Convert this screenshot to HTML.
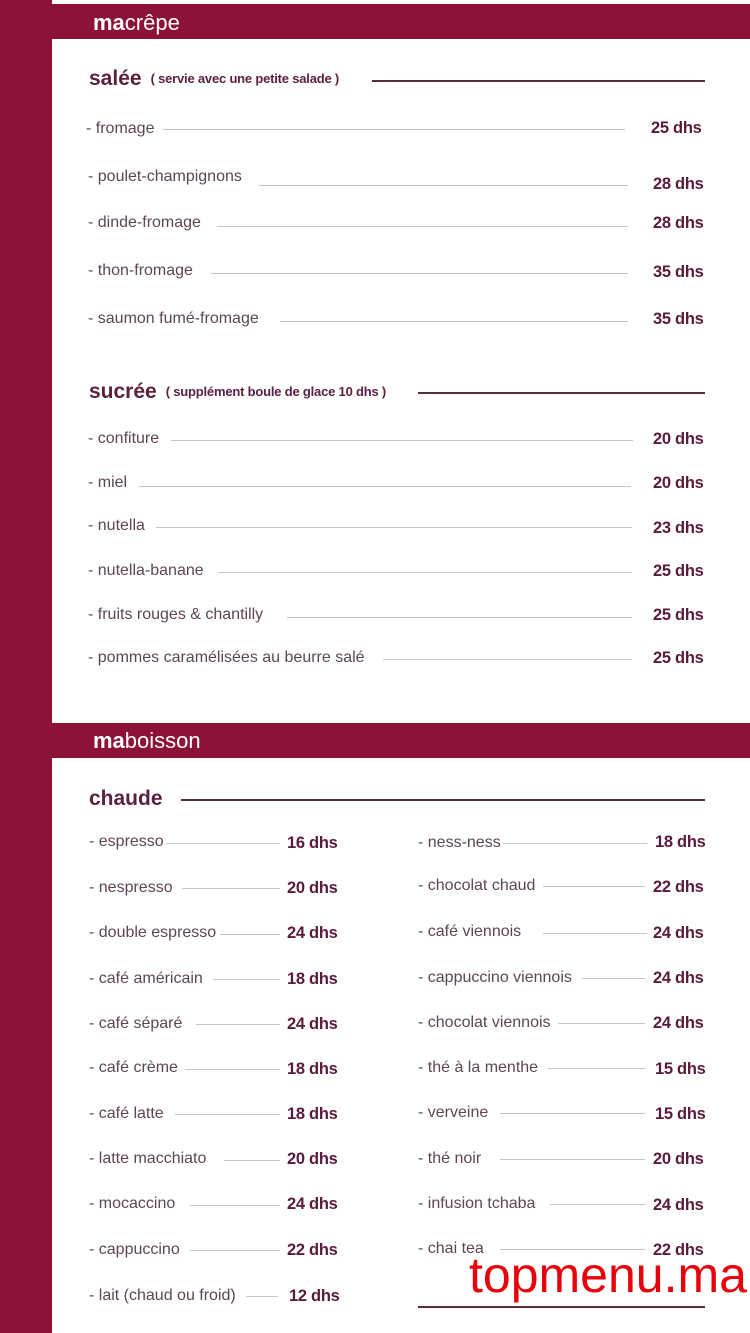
<!DOCTYPE html>
<html><head><meta charset="utf-8">
<style>
*{margin:0;padding:0;box-sizing:border-box}
body{width:750px;height:1333px;position:relative;background:#fff;overflow:hidden;font-family:"Liberation Sans",sans-serif}
.bar{position:absolute;background:#8c1238}
.t{position:absolute;font-size:16px;line-height:20px;color:#5c4656;white-space:nowrap}
.p{position:absolute;font-size:16.5px;line-height:20px;font-weight:bold;color:#5a1a3c;white-space:nowrap;letter-spacing:-0.3px}
.l{position:absolute;height:1px;background:#c9c2c6}
.dl{position:absolute;height:1.5px;background:#5a2a40}
.h{position:absolute;font-size:21px;line-height:26px;font-weight:bold;color:#5b2140;white-space:nowrap}
.s{font-size:13px;font-weight:bold;margin-left:9px;vertical-align:2px;letter-spacing:-0.2px}
.hd{position:absolute;font-size:22px;line-height:26px;color:#fff;white-space:nowrap}
.hd b{font-weight:bold}
</style></head><body>
<div class="bar" style="left:0;top:0;width:52px;height:1333px"></div>
<div class="bar" style="left:52px;top:4px;width:698px;height:35px"></div>
<div class="bar" style="left:52px;top:723px;width:698px;height:35px"></div>
<div class="hd" style="left:93px;top:10px"><b>ma</b>crêpe</div>
<div class="hd" style="left:93px;top:728px"><b>ma</b>boisson</div>

<div class="h" style="left:89px;top:66px">salée<span class="s">( servie avec une petite salade )</span></div>
<div class="dl" style="left:372px;top:80px;width:333px"></div>

<div class="t" style="left:86px;top:119px">- fromage</div><div class="l" style="left:163px;top:129px;width:462px"></div><div class="p" style="left:651px;top:118px">25 dhs</div>
<div class="t" style="left:88px;top:167px">- poulet-champignons</div><div class="l" style="left:259px;top:185px;width:369px"></div><div class="p" style="left:653px;top:174px">28 dhs</div>
<div class="t" style="left:88px;top:213px">- dinde-fromage</div><div class="l" style="left:217px;top:226px;width:411px"></div><div class="p" style="left:653px;top:213px">28 dhs</div>
<div class="t" style="left:88px;top:261px">- thon-fromage</div><div class="l" style="left:211px;top:273px;width:417px"></div><div class="p" style="left:653px;top:262px">35 dhs</div>
<div class="t" style="left:88px;top:309px">- saumon fumé-fromage</div><div class="l" style="left:280px;top:321px;width:348px"></div><div class="p" style="left:653px;top:309px">35 dhs</div>

<div class="h" style="left:89px;top:379px">sucrée<span class="s">( supplément boule de glace 10 dhs )</span></div>
<div class="dl" style="left:418px;top:392px;width:287px"></div>

<div class="t" style="left:88px;top:429px">- confiture</div><div class="l" style="left:171px;top:440px;width:462px"></div><div class="p" style="left:653px;top:429px">20 dhs</div>
<div class="t" style="left:88px;top:473px">- miel</div><div class="l" style="left:139px;top:486px;width:492px"></div><div class="p" style="left:653px;top:473px">20 dhs</div>
<div class="t" style="left:88px;top:516px">- nutella</div><div class="l" style="left:156px;top:527px;width:476px"></div><div class="p" style="left:653px;top:518px">23 dhs</div>
<div class="t" style="left:88px;top:561px">- nutella-banane</div><div class="l" style="left:218px;top:572px;width:414px"></div><div class="p" style="left:653px;top:561px">25 dhs</div>
<div class="t" style="left:88px;top:605px">- fruits rouges &amp; chantilly</div><div class="l" style="left:287px;top:617px;width:345px"></div><div class="p" style="left:653px;top:605px">25 dhs</div>
<div class="t" style="left:88px;top:648px">- pommes caramélisées au beurre salé</div><div class="l" style="left:383px;top:659px;width:249px"></div><div class="p" style="left:653px;top:648px">25 dhs</div>

<div class="h" style="left:89px;top:786px">chaude</div>
<div class="dl" style="left:181px;top:799px;width:524px"></div>

<div class="t" style="left:89px;top:832px">- espresso</div><div class="l" style="left:166px;top:843px;width:114px"></div><div class="p" style="left:287px;top:833px">16 dhs</div>
<div class="t" style="left:89px;top:878px">- nespresso</div><div class="l" style="left:182px;top:888px;width:98px"></div><div class="p" style="left:287px;top:878px">20 dhs</div>
<div class="t" style="left:89px;top:923px">- double espresso</div><div class="l" style="left:220px;top:934px;width:60px"></div><div class="p" style="left:287px;top:923px">24 dhs</div>
<div class="t" style="left:89px;top:969px">- café américain</div><div class="l" style="left:213px;top:979px;width:67px"></div><div class="p" style="left:287px;top:969px">18 dhs</div>
<div class="t" style="left:89px;top:1014px">- café séparé</div><div class="l" style="left:196px;top:1024px;width:84px"></div><div class="p" style="left:287px;top:1014px">24 dhs</div>
<div class="t" style="left:89px;top:1058px">- café crème</div><div class="l" style="left:185px;top:1069px;width:95px"></div><div class="p" style="left:287px;top:1059px">18 dhs</div>
<div class="t" style="left:89px;top:1104px">- café latte</div><div class="l" style="left:175px;top:1114px;width:105px"></div><div class="p" style="left:287px;top:1104px">18 dhs</div>
<div class="t" style="left:89px;top:1149px">- latte macchiato</div><div class="l" style="left:224px;top:1160px;width:56px"></div><div class="p" style="left:287px;top:1149px">20 dhs</div>
<div class="t" style="left:89px;top:1194px">- mocaccino</div><div class="l" style="left:190px;top:1205px;width:90px"></div><div class="p" style="left:287px;top:1194px">24 dhs</div>
<div class="t" style="left:89px;top:1240px">- cappuccino</div><div class="l" style="left:190px;top:1250px;width:90px"></div><div class="p" style="left:287px;top:1240px">22 dhs</div>
<div class="t" style="left:89px;top:1286px">- lait (chaud ou froid)</div><div class="l" style="left:246px;top:1296px;width:32px"></div><div class="p" style="left:289px;top:1286px">12 dhs</div>

<div class="t" style="left:418px;top:833px">- ness-ness</div><div class="l" style="left:503px;top:843px;width:144px"></div><div class="p" style="left:655px;top:832px">18 dhs</div>
<div class="t" style="left:418px;top:876px">- chocolat chaud</div><div class="l" style="left:543px;top:886px;width:102px"></div><div class="p" style="left:653px;top:877px">22 dhs</div>
<div class="t" style="left:418px;top:922px">- café viennois</div><div class="l" style="left:543px;top:933px;width:104px"></div><div class="p" style="left:653px;top:923px">24 dhs</div>
<div class="t" style="left:418px;top:968px">- cappuccino viennois</div><div class="l" style="left:582px;top:978px;width:63px"></div><div class="p" style="left:653px;top:968px">24 dhs</div>
<div class="t" style="left:418px;top:1013px">- chocolat viennois</div><div class="l" style="left:558px;top:1023px;width:87px"></div><div class="p" style="left:653px;top:1013px">24 dhs</div>
<div class="t" style="left:418px;top:1058px">- thé à la menthe</div><div class="l" style="left:548px;top:1068px;width:97px"></div><div class="p" style="left:655px;top:1059px">15 dhs</div>
<div class="t" style="left:418px;top:1103px">- verveine</div><div class="l" style="left:500px;top:1113px;width:145px"></div><div class="p" style="left:655px;top:1104px">15 dhs</div>
<div class="t" style="left:418px;top:1149px">- thé noir</div><div class="l" style="left:500px;top:1159px;width:145px"></div><div class="p" style="left:653px;top:1149px">20 dhs</div>
<div class="t" style="left:418px;top:1194px">- infusion tchaba</div><div class="l" style="left:550px;top:1204px;width:95px"></div><div class="p" style="left:653px;top:1195px">24 dhs</div>
<div class="t" style="left:418px;top:1239px">- chai tea</div><div class="l" style="left:500px;top:1249px;width:145px"></div><div class="p" style="left:653px;top:1240px">22 dhs</div>
<div class="dl" style="left:418px;top:1306px;width:287px"></div>

<div style="position:absolute;left:469px;top:1247px;font-size:50px;line-height:56px;color:#e8000b;white-space:nowrap;font-family:'Liberation Sans',sans-serif">topmenu.ma</div>
</body></html>
